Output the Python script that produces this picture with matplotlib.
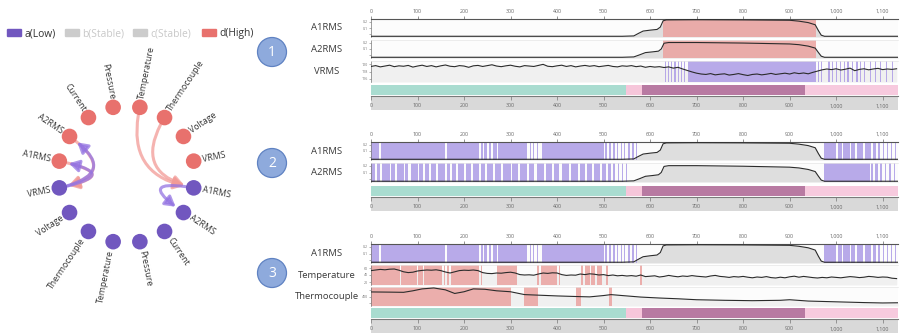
import numpy as np
import matplotlib
matplotlib.use("Agg")
import matplotlib.pyplot as plt
from matplotlib.patches import Circle, FancyArrowPatch, FancyBboxPatch

W, H = 904, 336
plt.rcParams['font.family'] = ['Open Sans', 'DejaVu Sans']

# ---------------- data ----------------
legend_labels = ['a(Low)', 'b(Stable)', 'c(Stable)', 'd(High)']
legend_active = [True, False, False, True]

ring_sensors = ['VRMS', 'Voltage', 'Thermocouple', 'Temperature',
                'Pressure', 'Current', 'A2RMS', 'A1RMS']
ring_levels = ['d(High)', 'a(Low)']          # upper half ring, lower half ring

# edges between ring nodes (index into the 16-node ring)
edge_src = [3, 2, 6, 7, 15, 8, 8]
edge_dst = [15, 15, 8, 8, 14, 6, 7]

step_labels = ['1', '2', '3']

axis_ticks = [0, 100, 200, 300, 400, 500, 600, 700, 800, 900, 1000, 1100]
axis_tick_labels = ['0', '100', '200', '300', '400', '500', '600', '700',
                    '800', '900', '1,000', '1,100']
x_end = 1133

a1_x = [0, 540, 565, 575, 585, 600, 615, 622, 628, 635, 700, 800, 900,
        920, 940, 955, 962, 968, 975, 1133]
a1_y = [0.04, 0.04, 0.06, 0.20, 0.33, 0.38, 0.42, 0.55, 0.90, 0.95, 0.96,
        0.95, 0.93, 0.88, 0.80, 0.68, 0.35, 0.10, 0.04, 0.04]

a2_x = [0, 540, 565, 578, 590, 605, 618, 624, 630, 640, 700, 800, 900,
        920, 940, 955, 962, 968, 975, 1133]
a2_y = [0.04, 0.04, 0.06, 0.18, 0.30, 0.34, 0.38, 0.50, 0.82, 0.86, 0.86,
        0.83, 0.78, 0.74, 0.66, 0.55, 0.30, 0.10, 0.04, 0.04]

sample_x = np.arange(0, 1140, 10)
vrms_y = [
    0.74, 0.78, 0.72, 0.76, 0.80, 0.73, 0.77, 0.75, 0.79, 0.71,
    0.76, 0.80, 0.74, 0.78, 0.72, 0.77, 0.81, 0.75, 0.73, 0.78,
    0.76, 0.70, 0.77, 0.79, 0.74, 0.78, 0.82, 0.76, 0.73, 0.77,
    0.80, 0.75, 0.72, 0.78, 0.76, 0.74, 0.79, 0.84, 0.75, 0.73,
    0.77, 0.80, 0.74, 0.78, 0.72, 0.76, 0.79, 0.75, 0.78, 0.73,
    0.76, 0.79, 0.74, 0.72, 0.77, 0.75, 0.78, 0.73, 0.76, 0.70,
    0.74, 0.71, 0.73, 0.69, 0.72, 0.66, 0.70, 0.62, 0.55, 0.48,
    0.42, 0.38, 0.36, 0.40, 0.34, 0.37, 0.39, 0.33, 0.36, 0.40,
    0.35, 0.31, 0.36, 0.38, 0.34, 0.37, 0.41, 0.36, 0.39, 0.42,
    0.38, 0.44, 0.40, 0.43, 0.39, 0.46, 0.52, 0.58, 0.62, 0.59,
    0.63, 0.57, 0.61, 0.66, 0.54, 0.60, 0.63, 0.58, 0.62, 0.65,
    0.59, 0.62, 0.60, 0.63]

temp_y = [
    0.72, 0.75, 0.78, 0.76, 0.79, 0.80, 0.74, 0.66, 0.62, 0.64,
    0.70, 0.73, 0.75, 0.74, 0.76, 0.72, 0.65, 0.60, 0.66, 0.72,
    0.74, 0.73, 0.75, 0.72, 0.62, 0.58, 0.57, 0.60, 0.59, 0.62,
    0.64, 0.60, 0.52, 0.50, 0.51, 0.49, 0.55, 0.60, 0.58, 0.61,
    0.60, 0.52, 0.48, 0.50, 0.49, 0.55, 0.52, 0.56, 0.54, 0.50,
    0.52, 0.47, 0.50, 0.46, 0.48, 0.45, 0.47, 0.44, 0.50, 0.42,
    0.44, 0.46, 0.40, 0.43, 0.48, 0.44, 0.41, 0.45, 0.43, 0.47,
    0.44, 0.42, 0.40, 0.45, 0.48, 0.43, 0.41, 0.38, 0.42, 0.40,
    0.43, 0.39, 0.36, 0.40, 0.38, 0.42, 0.37, 0.35, 0.39, 0.36,
    0.41, 0.44, 0.39, 0.43, 0.40, 0.37, 0.35, 0.38, 0.36, 0.40,
    0.38, 0.36, 0.39, 0.42, 0.40, 0.37, 0.39, 0.43, 0.41, 0.38,
    0.40, 0.39, 0.34, 0.32]

thermo_x = [0, 40, 70, 90, 110, 135, 160, 180, 200, 220, 245, 270, 300,
            330, 360, 400, 440, 470, 500, 516, 540, 580, 620, 660, 700,
            760, 820, 880, 900, 940, 1000, 1060, 1100, 1133]
thermo_y = [0.74, 0.73, 0.72, 0.80, 0.90, 0.95, 0.85, 0.66, 0.75, 0.90,
            0.88, 0.80, 0.75, 0.60, 0.57, 0.53, 0.50, 0.48, 0.55, 0.60,
            0.55, 0.47, 0.42, 0.38, 0.33, 0.30, 0.28, 0.30, 0.33, 0.26,
            0.22, 0.18, 0.16, 0.17]

high_spans_p1 = [[627, 956]]
vrms_low_spans_p1 = [[631, 634], [638, 641], [645, 647], [651, 655], [659, 662],
                     [666, 668], [672, 676], [682, 956], [960, 963], [968, 970],
                     [975, 977], [983, 986], [992, 994], [1000, 1002], [1008, 1011],
                     [1016, 1018], [1024, 1027], [1034, 1036], [1043, 1046],
                     [1052, 1054], [1060, 1063], [1072, 1074], [1084, 1086],
                     [1095, 1097], [1108, 1110], [1120, 1122]]
a1_low_spans = [[0, 18], [21, 160], [163, 232], [236, 240], [244, 250], [254, 258],
                [262, 270], [273, 336], [341, 343], [348, 350], [356, 358],
                [368, 500], [504, 508], [512, 516], [521, 524], [529, 531],
                [537, 539], [545, 547], [553, 556], [562, 565], [570, 572],
                [973, 1000], [1003, 1012], [1015, 1030], [1033, 1040],
                [1044, 1058], [1062, 1075], [1079, 1085], [1090, 1094],
                [1100, 1103], [1109, 1112], [1118, 1121], [1126, 1128]]
a2_low_spans = [[0, 8], [12, 20], [24, 40], [44, 52], [55, 70], [74, 80], [85, 100],
                [104, 112], [116, 125], [130, 140], [144, 160], [164, 170],
                [175, 182], [186, 200], [204, 215], [220, 232], [236, 245],
                [250, 262], [266, 280], [284, 300], [304, 315], [320, 335],
                [340, 350], [356, 372], [376, 390], [394, 405], [410, 425],
                [430, 445], [450, 460], [465, 475], [480, 492], [496, 505],
                [510, 515], [520, 524], [530, 533], [540, 542], [548, 550],
                [973, 1072], [1076, 1080], [1084, 1090], [1094, 1098],
                [1104, 1108], [1114, 1117], [1124, 1127]]
temp_high_spans = [[0, 62], [65, 98], [101, 112], [115, 152], [156, 159], [163, 167],
                   [172, 232], [236, 238], [271, 313], [357, 362], [365, 400],
                   [404, 406], [452, 455], [460, 470], [474, 482], [486, 497],
                   [506, 509], [579, 582]]
thermo_high_spans = [[0, 302], [330, 360], [440, 452], [512, 518]]

state_start = [0, 548, 582, 934]
state_end = [548, 582, 934, 1133]
state_kind = ['stable', 'rising', 'high', 'falling']

# ---------------- styles ----------------
level_color = {'a(Low)': '#7157bf', 'b(Stable)': '#cccccc',
               'c(Stable)': '#cccccc', 'd(High)': '#e8716d'}
arrow_color = {'a(Low)': '#9474e2', 'd(High)': '#f29a96'}
span_color = {'low': '#ad9ce6', 'high': '#eba3a0'}
state_color = {'stable': '#a9dcd0', 'rising': '#f6c6da',
               'high': '#b87aa2', 'falling': '#f7cade'}
edge_rad = [0.53, 0.68, -1.1, -2.4, 2.2, 1.1, 2.4]

fig = plt.figure(figsize=(W / 100, H / 100), dpi=100)
fig.patch.set_facecolor('white')


def px_axes(x0, y0, x1, y1):
    return fig.add_axes([x0 / W, 1 - y1 / H, (x1 - x0) / W, (y1 - y0) / H])


# ---------------- left: ring graph ----------------
g = px_axes(0, 0, 300, 336)
g.set_xlim(0, 300)
g.set_ylim(336, 0)
g.axis('off')

# legend
leg_x = [7, 65, 133, 202]
for lx, lab, act in zip(leg_x, legend_labels, legend_active):
    g.add_patch(FancyBboxPatch((lx + 1, 30), 13, 6, boxstyle='round,pad=1.2',
                               fc=level_color[lab], ec='none'))
    g.text(lx + 17.5, 33.5, lab, fontsize=7.4, va='center', ha='left',
           color='#333333' if act else '#c8c8c8')

cx, cy, R = 126.5, 174.5, 68.5
pos = []
for i in range(16):
    ang = np.deg2rad(11.25 + 22.5 * i)
    pos.append((cx + R * np.cos(ang), cy - R * np.sin(ang)))

for k, (s, d) in enumerate(zip(edge_src, edge_dst)):
    lev = ring_levels[s // 8]
    arr = FancyArrowPatch(pos[s], pos[d],
                          connectionstyle=f"arc3,rad={edge_rad[k]}",
                          arrowstyle='-|>,head_length=0.6,head_width=0.35',
                          mutation_scale=10, lw=2.2, color=arrow_color[lev],
                          alpha=0.75, shrinkA=6, shrinkB=7, zorder=2 + 0.1 * k)
    g.add_patch(arr)

for i in range(16):
    name = ring_sensors[i % 8]
    lev = ring_levels[i // 8]
    g.add_patch(Circle(pos[i], 7.8, fc=level_color[lev], ec='none', zorder=4))
    a = 11.25 + 22.5 * i
    ar = np.deg2rad(a)
    tx, ty = cx + 77 * np.cos(ar), cy - 77 * np.sin(ar)
    if np.cos(ar) >= 0:
        rot, ha = a if a < 180 else a - 360, 'left'
    else:
        rot, ha = a - 180, 'right'
    g.text(tx, ty, name, rotation=rot, rotation_mode='anchor', ha=ha,
           va='center', fontsize=6.3, color='#333333')

# step badges
for lab, by in zip(step_labels, [52, 163, 273]):
    g.add_patch(Circle((272, by), 14.5, fc='#8eaadc', ec='#5f82c2', lw=0.9))
    g.text(272, by + 0.5, lab, fontsize=10, color='white', ha='center', va='center')

# ---------------- right: timeline panels ----------------
series = {'A1RMS': (a1_x, a1_y), 'A2RMS': (a2_x, a2_y),
          'VRMS': (sample_x, vrms_y), 'Temperature': (sample_x, temp_y),
          'Thermocouple': (thermo_x, thermo_y)}
ytick_text = {'A1RMS': ['', '0.1', '0.2'], 'A2RMS': ['', '0.1', '0.2'],
              'VRMS': ['116', '118', '120'], 'Temperature': ['20', '40', '60'],
              'Thermocouple': ['', '400', '']}

panels = [
    dict(tracks=[('A1RMS', 19, 37, high_spans_p1, 'high'),
                 ('A2RMS', 40, 58, high_spans_p1, 'high'),
                 ('VRMS', 61, 82, vrms_low_spans_p1, 'low')],
         band=(85, 95), bottom=(96, 110)),
    dict(tracks=[('A1RMS', 142, 160, a1_low_spans, 'low'),
                 ('A2RMS', 163, 182, a2_low_spans, 'low')],
         band=(186, 196), bottom=(197, 211)),
    dict(tracks=[('A1RMS', 244, 263, a1_low_spans, 'low'),
                 ('Temperature', 265, 285, temp_high_spans, 'high'),
                 ('Thermocouple', 287, 306, thermo_high_spans, 'high')],
         band=(308, 318), bottom=(319, 333)),
]

X0, X1 = 371, 898
for p in panels:
    for ti, (name, t, b, spans, kind) in enumerate(p['tracks']):
        ax = px_axes(X0, t, X1, b)
        ax.set_xlim(0, x_end)
        ax.set_ylim(0, 1)
        ax.set_facecolor('#fcfcfc')
        xs, ys = series[name]
        fillc = '#dedede' if name in ('A1RMS', 'A2RMS') else '#f0f0f0'
        ax.fill_between(xs, ys, 0, color=fillc, lw=0, zorder=1)
        ax.broken_barh([(s, e - s) for s, e in spans], (0, 1),
                       facecolors=span_color[kind], alpha=0.85, lw=0, zorder=2)
        ax.plot(xs, ys, color='#2b2b2b', lw=0.8, zorder=3)
        for sp in ['right', 'bottom']:
            ax.spines[sp].set_visible(False)
        ax.spines['left'].set_color('#777777')
        ax.spines['left'].set_linewidth(0.5)
        ax.set_yticks([0.15, 0.5, 0.85])
        ax.set_yticklabels(ytick_text[name], fontsize=2.6, color='#777777')
        ax.tick_params(axis='y', length=1.5, width=0.4, pad=0.8, colors='#777777')
        if ti == 0:
            ax.xaxis.set_ticks_position('top')
            ax.set_xticks(axis_ticks)
            ax.set_xticklabels(axis_tick_labels, fontsize=3.8, color='#666666')
            ax.tick_params(axis='x', length=2.5, width=0.5, pad=1.2, colors='#666666')
            ax.spines['top'].set_color('#555555')
            ax.spines['top'].set_linewidth(0.8)
        else:
            ax.set_xticks([])
            ax.spines['top'].set_color('#e6e6e6')
            ax.spines['top'].set_linewidth(0.5)
        fig.text(327 / W, 1 - ((t + b) / 2) / H, name, ha='center', va='center',
                 fontsize=6.8, color='#3a3a3a')

    # state band
    bt, bb = p['band']
    axb = px_axes(X0, bt, X1, bb)
    axb.set_xlim(0, x_end)
    axb.set_ylim(0, 1)
    axb.broken_barh([(s, e - s) for s, e in zip(state_start, state_end)], (0, 1),
                    facecolors=[state_color[k] for k in state_kind], lw=0)
    axb.axis('off')

    # bottom axis
    xt, xb = p['bottom']
    axx = px_axes(X0, xt, X1, xb)
    axx.set_xlim(0, x_end)
    axx.set_ylim(0, 1)
    axx.set_facecolor('#d9d9d9')
    for sp in ['left', 'right', 'bottom']:
        axx.spines[sp].set_visible(False)
    axx.spines['top'].set_color('#7a7a7a')
    axx.spines['top'].set_linewidth(0.8)
    axx.set_xticks([])
    axx.set_yticks([])
    axx.vlines(axis_ticks, 0.68, 1.0, color='#777777', lw=0.5)
    for tv, tl in zip(axis_ticks, axis_tick_labels):
        axx.text(tv, 0.3, tl, fontsize=3.8, color='#666666', ha='center', va='center')

fig.savefig('out.png', dpi=100, facecolor='white')
